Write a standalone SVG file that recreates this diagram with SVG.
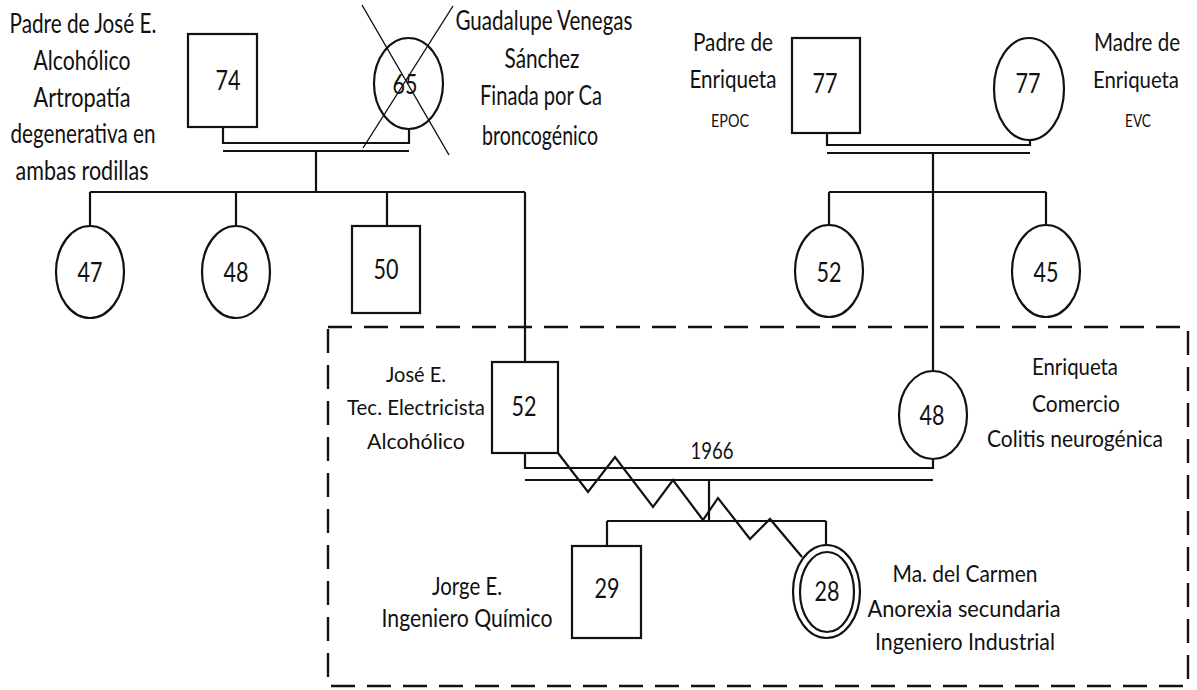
<svg xmlns="http://www.w3.org/2000/svg" width="1197" height="690" viewBox="0 0 1197 690">
<style>
.s{fill:#fff;stroke:#111;stroke-width:2.2}
.l{fill:none;stroke:#111;stroke-width:2.2}
.t{font-family:Lato,"Liberation Sans",sans-serif;fill:#111;text-anchor:middle}
.n{font-size:27px}
.a{font-size:27px}
.b{font-size:25px}
.b2{font-size:23px}
.c{font-size:17px}
.d{font-size:22px}
.e{font-size:23px}
.f{font-size:25px}
</style>
<rect width="1197" height="690" fill="#fff"/>
<g id="connectors">
<rect x="328" y="327" width="860" height="359" fill="none" stroke="#111" stroke-width="2.4" stroke-dasharray="24 12"/>
<polyline class="l" points="223,127 223,143 409,143 409,129"/>
<line class="l" x1="223" y1="151" x2="409" y2="151"/>
<line class="l" x1="316" y1="151" x2="316" y2="192"/>
<line class="l" x1="90" y1="192" x2="525" y2="192"/>
<line class="l" x1="90" y1="192" x2="90" y2="226"/>
<line class="l" x1="236" y1="192" x2="236" y2="226"/>
<line class="l" x1="387" y1="192" x2="387" y2="226"/>
<line class="l" x1="525" y1="192" x2="525" y2="362"/>
<polyline class="l" points="827,133 827,145 1030,145 1030,140"/>
<line class="l" x1="827" y1="153" x2="1030" y2="153"/>
<line class="l" x1="933" y1="153" x2="933" y2="371"/>
<line class="l" x1="829" y1="192" x2="1046" y2="192"/>
<line class="l" x1="829" y1="192" x2="829" y2="225"/>
<line class="l" x1="1046" y1="192" x2="1046" y2="225"/>
<polyline class="l" points="525,453 525,468 933,468 933,459"/>
<line class="l" x1="525" y1="480" x2="933" y2="480"/>
<line class="l" x1="709" y1="480" x2="709" y2="521"/>
<line class="l" x1="607" y1="521" x2="826" y2="521"/>
<line class="l" x1="607" y1="521" x2="607" y2="546"/>
<line class="l" x1="826" y1="521" x2="826" y2="545"/>
<polyline class="l" points="558,453 588,492 615,457 653,507 673,480 703,520 718,498 750,539 770,519 802,557"/>
</g>
<g id="n74"><rect class="s" x="188" y="34" width="69" height="93"/><text class="t n" x="228" y="90" textLength="25" lengthAdjust="spacingAndGlyphs">74</text></g>
<g id="n65"><ellipse class="s" cx="408.5" cy="83.5" rx="34.5" ry="45.5"/><text class="t n" x="405" y="94" textLength="25" lengthAdjust="spacingAndGlyphs">65</text>
<line stroke="#111" stroke-width="1.4" x1="362" y1="5" x2="449" y2="155"/><line stroke="#111" stroke-width="1.4" x1="453" y1="6" x2="363" y2="148"/></g>
<g id="n47"><ellipse class="s" cx="90" cy="272" rx="34" ry="46"/><text class="t n" x="90" y="282" textLength="25" lengthAdjust="spacingAndGlyphs">47</text></g>
<g id="n48a"><ellipse class="s" cx="236" cy="272" rx="34" ry="46"/><text class="t n" x="236" y="282" textLength="25" lengthAdjust="spacingAndGlyphs">48</text></g>
<g id="n50"><rect class="s" x="352" y="226" width="68" height="87"/><text class="t n" x="386" y="279" textLength="25" lengthAdjust="spacingAndGlyphs">50</text></g>
<g id="n77a"><rect class="s" x="792" y="38" width="68" height="95"/><text class="t n" x="825" y="93" textLength="25" lengthAdjust="spacingAndGlyphs">77</text></g>
<g id="n77b"><ellipse class="s" cx="1029" cy="89" rx="35" ry="51"/><text class="t n" x="1028" y="93" textLength="25" lengthAdjust="spacingAndGlyphs">77</text></g>
<g id="n52b"><ellipse class="s" cx="829" cy="271" rx="34" ry="46"/><text class="t n" x="829" y="282" textLength="25" lengthAdjust="spacingAndGlyphs">52</text></g>
<g id="n45"><ellipse class="s" cx="1046" cy="271" rx="34" ry="46"/><text class="t n" x="1046" y="282" textLength="25" lengthAdjust="spacingAndGlyphs">45</text></g>
<g id="n52"><rect class="s" x="492" y="362" width="66" height="91"/><text class="t n" x="524" y="416" textLength="25" lengthAdjust="spacingAndGlyphs">52</text></g>
<g id="n48"><ellipse class="s" cx="933" cy="415" rx="34" ry="44"/><text class="t n" x="932" y="425" textLength="25" lengthAdjust="spacingAndGlyphs">48</text></g>
<g id="n29"><rect class="s" x="572" y="546" width="69" height="92"/><text class="t n" x="607" y="598" textLength="25" lengthAdjust="spacingAndGlyphs">29</text></g>
<g id="n28"><ellipse class="s" cx="826.5" cy="591.5" rx="33.5" ry="46.5"/><ellipse class="s" cx="827" cy="592" rx="27" ry="40"/><text class="t n" x="827" y="601" textLength="25" lengthAdjust="spacingAndGlyphs">28</text></g>
<g id="labels">
<text class="t a" x="83" y="33" textLength="147" lengthAdjust="spacingAndGlyphs">Padre de José E.</text>
<text class="t a" x="82" y="70" textLength="97" lengthAdjust="spacingAndGlyphs">Alcohólico</text>
<text class="t a" x="82" y="107" textLength="97" lengthAdjust="spacingAndGlyphs">Artropatía</text>
<text class="t a" x="83" y="143" textLength="145" lengthAdjust="spacingAndGlyphs">degenerativa en</text>
<text class="t a" x="82" y="180" textLength="133" lengthAdjust="spacingAndGlyphs">ambas rodillas</text>
<text class="t a" x="544" y="30" textLength="177" lengthAdjust="spacingAndGlyphs">Guadalupe Venegas</text>
<text class="t a" x="542" y="68" textLength="75" lengthAdjust="spacingAndGlyphs">Sánchez</text>
<text class="t a" x="541" y="105" textLength="122" lengthAdjust="spacingAndGlyphs">Finada por Ca</text>
<text class="t a" x="540" y="145" textLength="116" lengthAdjust="spacingAndGlyphs">broncogénico</text>
<text class="t b" x="733" y="51" textLength="80" lengthAdjust="spacingAndGlyphs">Padre de</text>
<text class="t b" x="733" y="88" textLength="87" lengthAdjust="spacingAndGlyphs">Enriqueta</text>
<text class="t c" x="730" y="127" textLength="38" lengthAdjust="spacingAndGlyphs">EPOC</text>
<text class="t b" x="1137" y="51" textLength="86" lengthAdjust="spacingAndGlyphs">Madre de</text>
<text class="t b2" x="1136" y="88" textLength="86" lengthAdjust="spacingAndGlyphs">Enriqueta</text>
<text class="t c" x="1138" y="127" textLength="26" lengthAdjust="spacingAndGlyphs">EVC</text>
<text class="t d" x="416" y="382" textLength="60" lengthAdjust="spacingAndGlyphs">José E.</text>
<text class="t d" x="416" y="415" textLength="138" lengthAdjust="spacingAndGlyphs">Tec. Electricista</text>
<text class="t d" x="416" y="449" textLength="98" lengthAdjust="spacingAndGlyphs">Alcohólico</text>
<text class="t e" x="1075" y="375" textLength="86" lengthAdjust="spacingAndGlyphs">Enriqueta</text>
<text class="t e" x="1076" y="412" textLength="88" lengthAdjust="spacingAndGlyphs">Comercio</text>
<text class="t e" x="1075" y="447" textLength="176" lengthAdjust="spacingAndGlyphs">Colitis neurogénica</text>
<text class="t e" x="712" y="459" textLength="43" lengthAdjust="spacingAndGlyphs">1966</text>
<text class="t f" x="467" y="595" textLength="70" lengthAdjust="spacingAndGlyphs">Jorge E.</text>
<text class="t f" x="467" y="627" textLength="171" lengthAdjust="spacingAndGlyphs">Ingeniero Químico</text>
<text class="t e" x="965" y="582" textLength="145" lengthAdjust="spacingAndGlyphs">Ma. del Carmen</text>
<text class="t e" x="964" y="617" textLength="193" lengthAdjust="spacingAndGlyphs">Anorexia secundaria</text>
<text class="t e" x="965" y="650" textLength="180" lengthAdjust="spacingAndGlyphs">Ingeniero Industrial</text>
</g>
</svg>
